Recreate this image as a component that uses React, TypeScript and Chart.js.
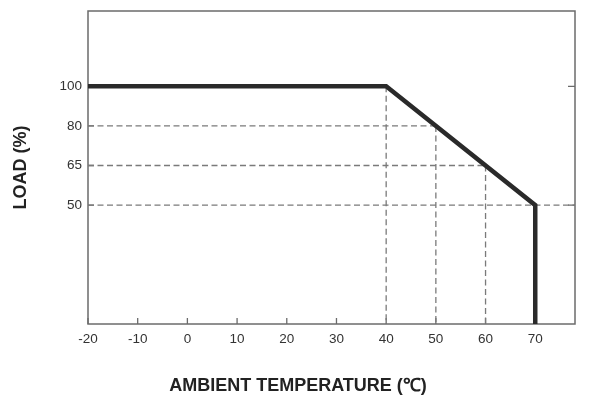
import React, { useEffect, useRef } from 'react';
import { Chart, registerables } from 'chart.js';

Chart.register(...registerables);

// derating curve: ambient temperature (°C) vs load (%)
const curveTemps = [-20, 40, 70, 70];
const curveLoads = [100, 100, 50, 0];

// dashed guide lines drop from these break points
const guideTemps = [40, 50, 60, 70];
const guideLoads = [100, 80, 65, 50];

const tempTicks = [-20, -10, 0, 10, 20, 30, 40, 50, 60, 70];
const loadTicks = [50, 65, 80, 100];
const rightTickLoads = [100, 50];

const X_MIN = -20;
const X_MAX = 78;

// the load axis is not linear: each labelled level gets an equal slot
const loadStops = [0, 50, 65, 80, 100];
const slotStops = [-3, 0, 1, 2, 3];

const loadToSlot = (v: number) => {
  for (let i = 0; i < loadStops.length - 1; i++) {
    const a = loadStops[i], b = loadStops[i + 1];
    if (v >= a && v <= b) {
      return slotStops[i] + ((v - a) / (b - a)) * (slotStops[i + 1] - slotStops[i]);
    }
  }
  return v < loadStops[0] ? slotStops[0] : slotStops[slotStops.length - 1];
};

const FONT = "'Liberation Sans', Arial, sans-serif";
const FRAME = '#6b6b6b';

const framePlugin = {
  id: 'frameAndTicks',
  beforeDatasetsDraw(chart: Chart) {
    const { ctx, chartArea: a, scales } = chart;
    const xs = scales.x, ys = scales.y;
    ctx.save();
    ctx.strokeStyle = FRAME;
    ctx.lineWidth = 1.5;
    ctx.strokeRect(a.left, a.top, a.right - a.left, a.bottom - a.top);
    ctx.lineWidth = 1.3;
    ctx.beginPath();
    tempTicks.forEach(t => {
      const px = xs.getPixelForValue(t);
      ctx.moveTo(px, a.bottom);
      ctx.lineTo(px, a.bottom - 6);
    });
    loadTicks.forEach(l => {
      const py = ys.getPixelForValue(loadToSlot(l));
      ctx.moveTo(a.left, py);
      ctx.lineTo(a.left + 6, py);
    });
    rightTickLoads.forEach(l => {
      const py = ys.getPixelForValue(loadToSlot(l));
      ctx.moveTo(a.right, py);
      ctx.lineTo(a.right - 7, py);
    });
    ctx.stroke();
    ctx.restore();
  },
  afterDraw(chart: Chart) {
    const { ctx, chartArea: a } = chart;
    ctx.save();
    ctx.fillStyle = '#222';
    ctx.font = `bold 18px ${FONT}`;
    ctx.textAlign = 'center';
    ctx.textBaseline = 'middle';
    ctx.fillText('AMBIENT TEMPERATURE (℃)', 298, 386);
    ctx.translate(21, (a.top + a.bottom) / 2);
    ctx.rotate(-Math.PI / 2);
    ctx.fillText('LOAD (%)', 0, 0);
    ctx.restore();
  },
};

export default function App() {
  const canvasRef = useRef<HTMLCanvasElement>(null);

  useEffect(() => {
    if (!canvasRef.current) return;

    const guideSets: any[] = [];
    guideTemps.forEach((t, i) => {
      const y = loadToSlot(guideLoads[i]);
      const hEnd = i === guideTemps.length - 1 ? X_MAX : t;
      guideSets.push({ data: [{ x: X_MIN, y }, { x: hEnd, y }] });
      guideSets.push({ data: [{ x: t, y }, { x: t, y: loadToSlot(0) }] });
    });

    const chart = new Chart(canvasRef.current, {
      type: 'line',
      data: {
        datasets: [
          {
            data: curveTemps.map((t, i) => ({ x: t, y: loadToSlot(curveLoads[i]) })),
            borderColor: '#2a2a2a',
            borderWidth: 4.5,
            borderJoinStyle: 'miter',
            borderCapStyle: 'butt',
            pointRadius: 0,
            tension: 0,
            order: 0,
          },
          ...guideSets.map(g => ({
            ...g,
            borderColor: '#7a7a7a',
            borderWidth: 1.3,
            borderDash: [6, 3.5],
            pointRadius: 0,
            tension: 0,
            order: 1,
          })),
        ],
      },
      options: {
        animation: false,
        responsive: true,
        maintainAspectRatio: false,
        layout: { padding: { left: 0, right: 14, top: 11, bottom: 0 } },
        plugins: { legend: { display: false }, tooltip: { enabled: false } },
        scales: {
          x: {
            type: 'linear',
            min: X_MIN,
            max: X_MAX,
            afterBuildTicks: (s: any) => { s.ticks = tempTicks.map(v => ({ value: v })); },
            afterFit: (s: any) => { s.height = 83; s.paddingLeft = 0; s.paddingRight = 0; },
            grid: { display: false, drawTicks: false },
            border: { display: false },
            ticks: {
              autoSkip: false,
              maxRotation: 0,
              padding: 7,
              color: '#333',
              font: { family: FONT, size: 13.5 },
            },
          },
          y: {
            type: 'linear',
            min: -3,
            max: 4.9,
            afterBuildTicks: (s: any) => { s.ticks = loadTicks.map(l => ({ value: loadToSlot(l) })); },
            afterFit: (s: any) => { s.width = 88; s.paddingTop = 0; s.paddingBottom = 0; },
            grid: { display: false, drawTicks: false },
            border: { display: false },
            ticks: {
              padding: 6,
              color: '#333',
              font: { family: FONT, size: 13.5 },
              callback: (_v: any, i: number) => String(loadTicks[i]),
            },
          },
        },
      },
      plugins: [framePlugin],
    });

    return () => chart.destroy();
  }, []);

  return (
    <div style={{ position: 'fixed', left: 0, top: 0, width: 589, height: 407, background: '#fff' }}>
      <canvas ref={canvasRef} />
    </div>
  );
}
